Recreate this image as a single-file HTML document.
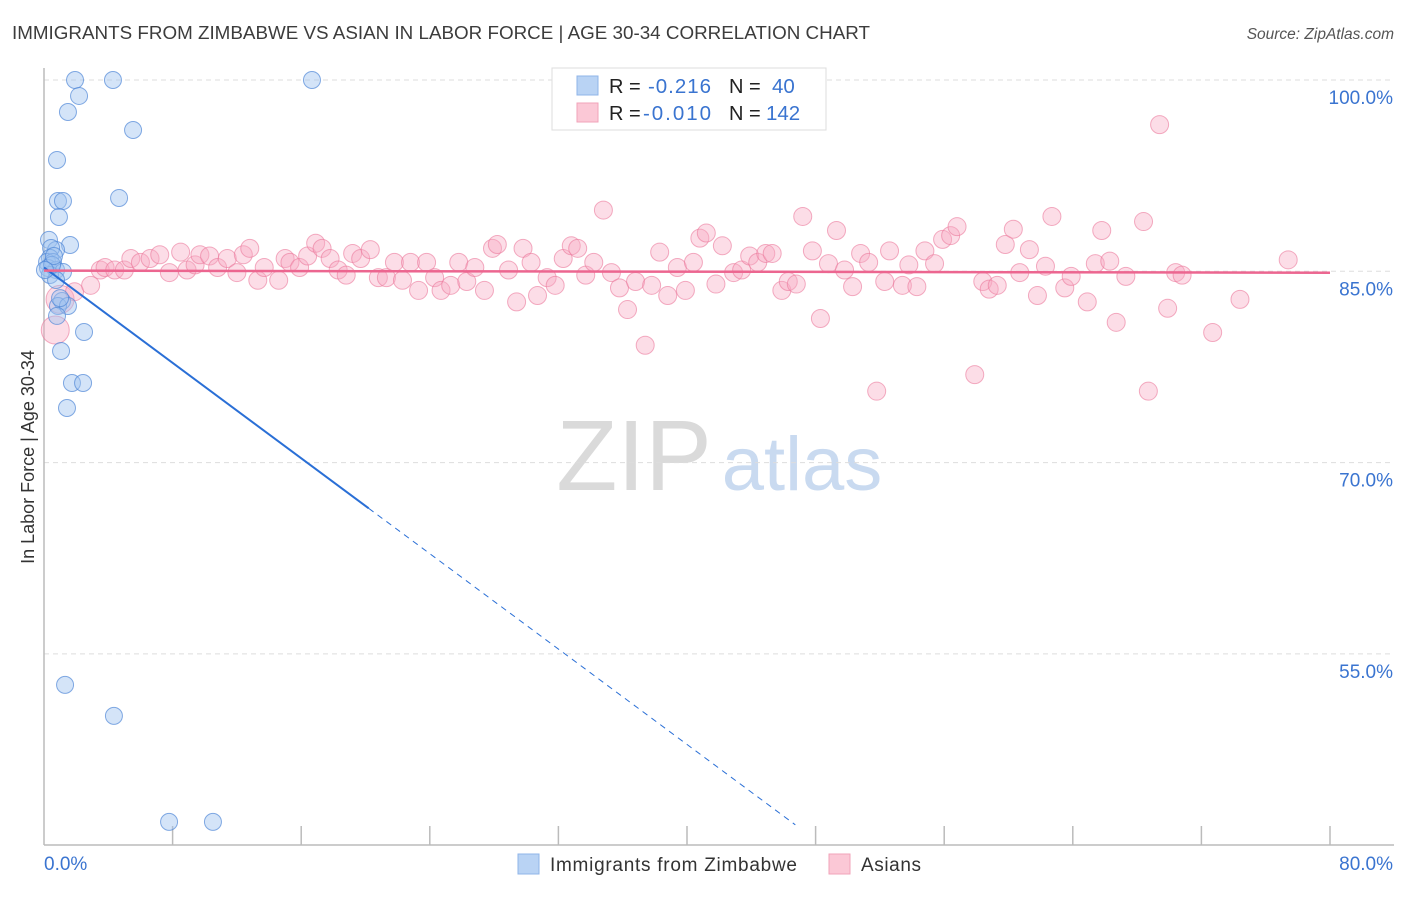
<!DOCTYPE html>
<html><head><meta charset="utf-8"><style>
body{margin:0;background:#fff;font-family:"Liberation Sans",sans-serif;}
svg text{font-family:"Liberation Sans",sans-serif;}
</style></head><body>
<svg id="chart" width="1406" height="892" xmlns="http://www.w3.org/2000/svg">
<text x="12" y="39" font-size="18" fill="#3c3c3c" textLength="858" lengthAdjust="spacingAndGlyphs">IMMIGRANTS FROM ZIMBABWE VS ASIAN IN LABOR FORCE | AGE 30-34 CORRELATION CHART</text>
<text x="1394" y="39" font-size="15.5" fill="#555" font-style="italic" text-anchor="end">Source: ZipAtlas.com</text>
<g>
<text x="634" y="490" font-size="100" fill="#dadada" text-anchor="middle" font-family="Liberation Serif">ZIP</text>
<text x="802" y="490" font-size="76" fill="#c9daf0" text-anchor="middle">atlas</text>
</g>
<g id="grid"></g><g id="axes"></g><g id="pts"></g><g id="trend"></g>
<text transform="translate(34,457) rotate(-90)" font-size="18" fill="#333" text-anchor="middle">In Labor Force | Age 30-34</text>
<g>
<rect x="552" y="68" width="274" height="62" fill="#fff" stroke="#ddd"/>
<rect x="577" y="76" width="21" height="19" fill="#b9d3f4" stroke="#8fb5e8"/>
<rect x="577" y="103" width="21" height="19" fill="#fbc8d6" stroke="#f1a3b9"/>
<text x="609" y="93" font-size="20" fill="#222">R = </text><text x="648" y="93" font-size="20.5" fill="#3a74d0" textLength="63">-0.216</text>
<text x="729" y="93" font-size="20" fill="#222">N = </text><text x="772" y="93" font-size="20.5" fill="#3a74d0">40</text>
<text x="609" y="120" font-size="20" fill="#222">R = </text><text x="643" y="120" font-size="20.5" fill="#3a74d0" textLength="68">-0.010</text>
<text x="729" y="120" font-size="20" fill="#222">N = </text><text x="766" y="120" font-size="20.5" fill="#3a74d0">142</text>
</g>
<g>
<rect x="518" y="854" width="21" height="20" fill="#b9d3f4" stroke="#8fb5e8"/>
<text x="550" y="871" font-size="19" fill="#333" textLength="247">Immigrants from Zimbabwe</text>
<rect x="829" y="854" width="21" height="20" fill="#fbc8d6" stroke="#f1a3b9"/>
<text x="861" y="871" font-size="19" fill="#333" textLength="60">Asians</text>
</g>
</svg>
<script>
const yTicks=[100,85,70,55];
const xTickLabels=["0.0%","80.0%"];
const blueX=[1.93,4.29,16.67,2.18,1.49,5.54,0.81,4.67,0.87,1.18,0.93,0.31,1.62,0.75,0.44,0.37,0.19,0.56,0.25,0.75,1.18,0.37,0.75,1.12,0.87,1.49,0.81,2.49,1.06,1.74,2.43,1.43,1.31,4.35,7.78,10.51,0.5,0.62,0.06,1.0];
const blueY=[100,100,100,98.75,97.49,96.08,93.73,90.75,90.51,90.51,89.26,87.46,87.06,86.67,86.83,86.05,85.73,85.73,85.26,85.1,84.95,84.71,84.32,82.67,82.28,82.28,81.5,80.24,78.75,76.24,76.24,74.28,52.57,50.14,41.83,41.83,85.5,86.2,85.1,82.9];
const pinkX=[0.7,1.0,1.9,2.9,3.5,3.8,4.4,5.0,5.4,6.0,6.6,7.2,7.8,8.5,8.9,9.4,9.7,10.3,10.8,11.4,12.0,12.4,12.8,13.3,13.7,14.6,15.0,15.3,15.9,16.4,16.9,17.3,17.8,18.3,18.8,19.2,19.7,20.3,20.8,21.3,21.8,22.3,22.8,23.3,23.8,24.3,24.7,25.3,25.8,26.3,26.8,27.4,27.9,28.2,28.9,29.4,29.8,30.3,30.7,31.3,31.8,32.3,32.8,33.2,33.7,34.2,34.8,35.3,35.8,36.3,36.8,37.4,37.8,38.3,38.8,39.4,39.9,40.4,40.8,41.2,41.8,42.2,42.9,43.4,43.9,44.4,44.9,45.3,45.9,46.3,46.8,47.2,47.8,48.3,48.8,49.3,49.8,50.3,50.8,51.3,51.8,52.3,52.6,53.4,53.8,54.3,54.8,55.4,55.9,56.4,56.8,57.9,58.4,58.8,59.3,59.8,60.3,60.7,61.3,61.8,62.3,62.7,63.5,63.9,64.9,65.4,65.8,66.3,66.7,67.3,68.4,68.7,69.4,69.9,70.4,70.8,72.7,74.4,77.4];
const pinkY=[80.4,82.8,83.4,83.9,85.1,85.3,85.1,85.1,86.0,85.7,86.0,86.3,84.9,86.5,85.1,85.5,86.3,86.2,85.3,86.0,84.9,86.3,86.8,84.3,85.3,84.3,86.0,85.7,85.3,86.2,87.2,86.8,86.0,85.1,84.7,86.4,86.0,86.7,84.5,84.5,85.7,84.3,85.7,83.5,85.7,84.5,83.5,83.9,85.7,84.2,85.3,83.5,86.8,87.1,85.1,82.6,86.8,85.7,83.1,84.5,83.9,86.0,87.0,86.8,84.7,85.7,89.8,84.9,83.7,82.0,84.2,79.2,83.9,86.5,83.1,85.3,83.5,85.7,87.6,88.0,84.0,87.0,84.9,85.1,86.2,85.7,86.4,86.4,83.5,84.2,84.0,89.3,86.6,81.3,85.6,88.2,85.1,83.8,86.4,85.7,75.6,84.2,86.6,83.9,85.5,83.8,86.6,85.6,87.5,87.8,88.5,76.9,84.2,83.6,83.9,87.1,88.3,84.9,86.7,83.1,85.4,89.3,83.7,84.6,82.6,85.6,88.2,85.8,81.0,84.6,88.9,75.6,96.5,82.1,84.9,84.7,80.2,82.8,85.9];
const blueTrend=[85.3,-0.935];
const pinkTrend=[85.05,-0.002];
const X=v=>44+v*1286/80, Y=v=>80+(100-v)*191.3/15;
const NS="http://www.w3.org/2000/svg";
function mk(p,t,a){const e=document.createElementNS(NS,t);for(const k in a)e.setAttribute(k,a[k]);document.getElementById(p).appendChild(e);return e;}
yTicks.forEach(t=>{
 const l=mk('grid','line',{x1:44,x2:1394,y1:Y(t),y2:Y(t),stroke:'#ddd','stroke-dasharray':'5,4'});
 
 
 const tx=mk('grid','text',{x:1393,y:Y(t)+24,'font-size':19,fill:'#3a74d0','text-anchor':'end'});
 tx.textContent=t.toFixed(1)+'%';
 
 
});
let a=mk('axes','line',{x1:44,x2:44,y1:68,y2:845,stroke:'#bbb','stroke-width':1.5});


a=mk('axes','line',{x1:44,x2:1394,y1:845,y2:845,stroke:'#bbb','stroke-width':1.5});


for(let i=1;i<=10;i++){const tk=mk('axes','line',{x1:X(i*8),x2:X(i*8),y1:826,y2:845,stroke:'#bbb','stroke-width':1.5});
 
 }
let xl=mk('axes','text',{x:44,y:870,'font-size':19,fill:'#3a74d0'});xl.textContent=xTickLabels[0];


xl=mk('axes','text',{x:1393,y:870,'font-size':19,fill:'#3a74d0','text-anchor':'end'});xl.textContent=xTickLabels[1];


pinkX.forEach((v,i)=>{const c=mk('pts','circle',{cx:X(v),cy:Y(pinkY[i]),r:i<2?14:9,fill:'rgba(248,170,195,0.4)',stroke:'rgba(235,120,155,0.6)','stroke-width':1});
 
 });
blueX.forEach((v,i)=>{const c=mk('pts','circle',{cx:X(v),cy:Y(blueY[i]),r:8.5,fill:'rgba(160,195,240,0.45)',stroke:'rgba(80,135,215,0.7)','stroke-width':1});
 
 });
const by=x=>blueTrend[0]+blueTrend[1]*x;
const xEnd=(blueTrend[0]-41.6)/(-blueTrend[1]);
let t=mk('trend','line',{x1:X(0),y1:Y(by(0)),x2:X(20.2),y2:Y(by(20.2)),stroke:'#2a6fd6','stroke-width':2});


t=mk('trend','line',{x1:X(20.2),y1:Y(by(20.2)),x2:X(xEnd),y2:Y(by(xEnd)),stroke:'#2a6fd6','stroke-width':1,'stroke-dasharray':'6,5'});


const py=x=>pinkTrend[0]+pinkTrend[1]*x;
t=mk('trend','line',{x1:X(0),y1:Y(py(0)),x2:X(80),y2:Y(py(80)),stroke:'#ec6690','stroke-width':2.5});


</script>
</body></html>
